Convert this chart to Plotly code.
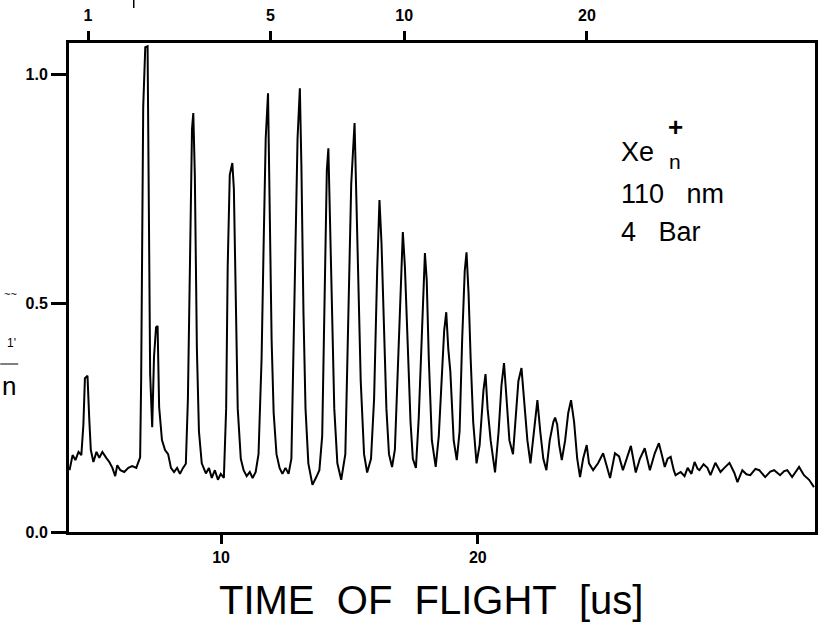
import plotly.graph_objects as go

# ---- data ----
time_us = [
    4.10, 4.22, 4.33, 4.45, 4.56, 4.64, 4.70, 4.80, 4.87, 4.93, 5.03, 5.15, 5.26, 5.38, 5.53, 5.65,
    5.77, 5.88, 5.96, 6.08, 6.23, 6.39, 6.54, 6.70, 6.85, 6.89, 6.97, 7.05, 7.14, 7.18, 7.24, 7.32,
    7.39, 7.47, 7.53, 7.59, 7.70, 7.82, 7.94, 8.05, 8.17, 8.29, 8.40, 8.52, 8.63, 8.71, 8.79, 8.87,
    8.92, 8.98, 9.06, 9.14, 9.25, 9.41, 9.53, 9.64, 9.76, 9.88, 9.99, 10.11, 10.20, 10.26, 10.34, 10.44,
    10.50, 10.57, 10.65, 10.77, 10.88, 11.00, 11.12, 11.23, 11.35, 11.46, 11.58, 11.66, 11.74, 11.83, 11.89, 11.97,
    12.05, 12.16, 12.28, 12.39, 12.51, 12.63, 12.74, 12.82, 12.90, 12.98, 13.07, 13.13, 13.21, 13.29, 13.40, 13.56,
    13.71, 13.83, 13.94, 14.04, 14.12, 14.18, 14.25, 14.33, 14.41, 14.53, 14.68, 14.84, 14.91, 14.99, 15.07, 15.20,
    15.26, 15.34, 15.44, 15.57, 15.69, 15.84, 15.96, 16.08, 16.17, 16.25, 16.35, 16.44, 16.54, 16.66, 16.77, 16.89,
    16.99, 17.08, 17.16, 17.26, 17.38, 17.47, 17.59, 17.70, 17.80, 17.94, 18.01, 18.09, 18.21, 18.36, 18.48, 18.60,
    18.69, 18.77, 18.85, 18.93, 19.06, 19.18, 19.29, 19.39, 19.49, 19.56, 19.64, 19.72, 19.82, 19.95, 20.07, 20.22,
    20.30, 20.38, 20.50, 20.67, 20.81, 20.92, 21.02, 21.12, 21.23, 21.37, 21.48, 21.58, 21.70, 21.81, 21.93, 22.05,
    22.18, 22.32, 22.43, 22.55, 22.67, 22.80, 22.94, 23.01, 23.09, 23.17, 23.27, 23.40, 23.52, 23.63, 23.75, 23.87,
    23.98, 24.10, 24.24, 24.33, 24.49, 24.68, 24.88, 25.03, 25.15, 25.34, 25.50, 25.65, 25.81, 25.96, 26.15, 26.31,
    26.50, 26.70, 26.89, 27.05, 27.16, 27.28, 27.39, 27.51, 27.63, 27.70, 27.90, 28.05, 28.17, 28.32, 28.44, 28.56,
    28.63, 28.79, 28.94, 29.06, 29.25, 29.45, 29.60, 29.80, 29.99, 30.11, 30.30, 30.46, 30.61, 30.81, 30.96, 31.19,
    31.39, 31.54, 31.77, 31.93, 32.05, 32.24, 32.51, 32.70, 32.90, 33.09,
]
intensity = [
    0.135, 0.168, 0.157, 0.175, 0.168, 0.234, 0.336, 0.341, 0.245, 0.179, 0.153, 0.175, 0.162, 0.175, 0.162, 0.153,
    0.140, 0.122, 0.146, 0.135, 0.131, 0.140, 0.144, 0.140, 0.163, 0.332, 0.928, 1.059, 1.061, 0.819, 0.345, 0.229,
    0.382, 0.447, 0.450, 0.273, 0.201, 0.179, 0.170, 0.140, 0.131, 0.140, 0.127, 0.140, 0.149, 0.290, 0.630, 0.880,
    0.915, 0.780, 0.400, 0.220, 0.150, 0.128, 0.140, 0.118, 0.135, 0.114, 0.127, 0.118, 0.270, 0.580, 0.780, 0.806,
    0.750, 0.480, 0.270, 0.160, 0.135, 0.122, 0.131, 0.118, 0.131, 0.170, 0.380, 0.630, 0.860, 0.958, 0.720, 0.420,
    0.260, 0.170, 0.140, 0.127, 0.140, 0.127, 0.160, 0.380, 0.640, 0.860, 0.969, 0.800, 0.480, 0.270, 0.150, 0.103,
    0.120, 0.135, 0.210, 0.560, 0.790, 0.838, 0.660, 0.420, 0.270, 0.150, 0.114, 0.170, 0.350, 0.570, 0.760, 0.893,
    0.750, 0.520, 0.330, 0.170, 0.130, 0.160, 0.290, 0.570, 0.725, 0.630, 0.450, 0.270, 0.170, 0.142, 0.180, 0.350,
    0.530, 0.655, 0.580, 0.410, 0.240, 0.160, 0.140, 0.250, 0.420, 0.609, 0.550, 0.380, 0.200, 0.142, 0.210, 0.350,
    0.440, 0.480, 0.400, 0.350, 0.200, 0.157, 0.220, 0.420, 0.570, 0.611, 0.520, 0.380, 0.240, 0.150, 0.190, 0.310,
    0.345, 0.270, 0.200, 0.130, 0.220, 0.320, 0.369, 0.290, 0.200, 0.170, 0.260, 0.330, 0.358, 0.290, 0.200, 0.150,
    0.220, 0.288, 0.220, 0.160, 0.135, 0.200, 0.240, 0.250, 0.235, 0.190, 0.157, 0.200, 0.260, 0.288, 0.240, 0.160,
    0.120, 0.160, 0.190, 0.150, 0.135, 0.150, 0.172, 0.140, 0.118, 0.172, 0.165, 0.135, 0.160, 0.188, 0.130, 0.160,
    0.183, 0.135, 0.172, 0.194, 0.170, 0.142, 0.160, 0.164, 0.135, 0.124, 0.131, 0.122, 0.140, 0.127, 0.153, 0.138,
    0.135, 0.148, 0.140, 0.124, 0.151, 0.131, 0.140, 0.151, 0.129, 0.109, 0.135, 0.126, 0.124, 0.138, 0.135, 0.120,
    0.132, 0.135, 0.124, 0.133, 0.135, 0.120, 0.142, 0.124, 0.114, 0.098,
]

bottom_tick_vals = [10, 20]
left_tick_vals = [0.0, 0.5, 1.0]
left_tick_text = ["0.0", "0.5", "1.0"]
# cluster size n (top axis) and where its ticks sit on the time axis
top_tick_text = ["1", "5", "10", "20"]
top_tick_times = [4.82, 11.92, 17.13, 24.25]

x_range = [4.08, 33.13]
y_range = [0.0, 1.068]

FONT = "Liberation Sans, Arial, Helvetica, sans-serif"

fig = go.Figure()
fig.add_trace(go.Scatter(
    x=time_us, y=intensity, mode="lines",
    line=dict(color="black", width=2),
    showlegend=False, hoverinfo="skip",
))
# invisible helper trace for the top axis
fig.add_trace(go.Scatter(x=[x_range[0]], y=[0], xaxis="x2", mode="markers",
                         marker=dict(opacity=0), showlegend=False, hoverinfo="skip"))

tick_font = dict(family=FONT, size=16, color="black", weight="bold")

fig.update_layout(
    width=821, height=626,
    margin=dict(l=69, r=3, t=43, b=94),
    paper_bgcolor="white", plot_bgcolor="white",
    xaxis=dict(
        range=x_range, showgrid=False, zeroline=False,
        showline=True, linecolor="black", linewidth=2.5, mirror=True,
        ticks="outside", ticklen=9, tickwidth=2.5, tickcolor="black",
        tickvals=bottom_tick_vals, tickfont=tick_font,
    ),
    xaxis2=dict(
        range=x_range, overlaying="x", side="top", showgrid=False, zeroline=False,
        showline=False, ticks="outside", ticklen=11, tickwidth=2.5, tickcolor="black",
        tickvals=top_tick_times, ticktext=top_tick_text, tickfont=tick_font,
        ticklabelstandoff=4,
    ),
    yaxis=dict(
        range=y_range, showgrid=False, zeroline=False,
        showline=True, linecolor="black", linewidth=3, mirror=True,
        ticks="outside", ticklen=15, tickwidth=2.5, tickcolor="black",
        tickvals=left_tick_vals, ticktext=left_tick_text, tickfont=tick_font,
    ),
)

W = 749.0
H = 489.0
def px_x(p):
    return (p - 69) / W
def px_y(p):
    return (532 - p) / H

ann_font = dict(family=FONT, size=27, color="black")
anns = [
    dict(text="TIME\u00a0\u00a0OF\u00a0\u00a0FLIGHT\u00a0\u00a0[us]", x=px_x(432), y=px_y(600),
         font=dict(family=FONT, size=40, color="black")),
    dict(text="Xe", x=px_x(621), y=px_y(152), xanchor="left", font=ann_font),
    dict(text="n", x=px_x(677), y=px_y(161), font=dict(family=FONT, size=21, color="black")),
    dict(text="+", x=px_x(678), y=px_y(127), font=dict(family=FONT, size=26, color="black", weight="bold")),
    dict(text="110\u00a0\u00a0\u00a0nm", x=px_x(621), y=px_y(194), xanchor="left", font=ann_font),
    dict(text="4\u00a0\u00a0\u00a0Bar", x=px_x(621), y=px_y(232), xanchor="left", font=ann_font),
    dict(text="n", x=px_x(0), y=px_y(386), xanchor="left", font=dict(family=FONT, size=26, color="black")),
    dict(text="1'", x=px_x(18), y=px_y(343), xanchor="right", font=dict(family=FONT, size=12, color="black")),
    dict(text="~~", x=px_x(19), y=px_y(294), xanchor="right", font=dict(family=FONT, size=11, color="black")),
]
for a in anns:
    a.update(xref="paper", yref="paper", showarrow=False)
    if "xanchor" not in a:
        a["xanchor"] = "center"
    a["yanchor"] = "middle"
fig.update_layout(annotations=anns)

fig.add_shape(type="line", xref="paper", yref="paper",
              x0=px_x(0), x1=px_x(18), y0=px_y(364), y1=px_y(364),
              line=dict(color="black", width=1))
fig.add_shape(type="line", xref="paper", yref="paper",
              x0=px_x(134), x1=px_x(134), y0=px_y(0), y1=px_y(8),
              line=dict(color="black", width=1.5))

fig.write_html("out.html")
